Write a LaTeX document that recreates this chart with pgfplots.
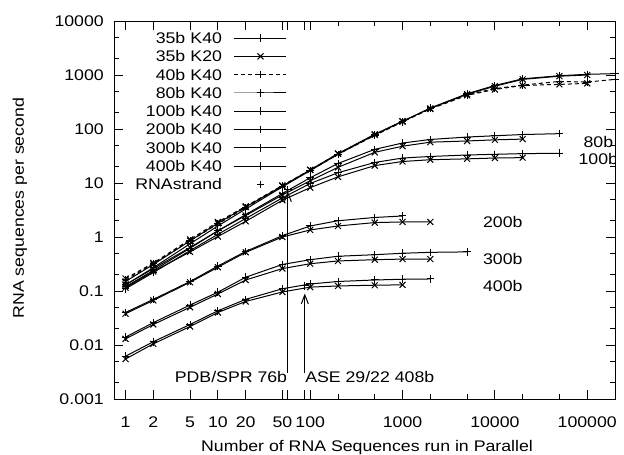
\documentclass[border=0pt]{standalone}
\usepackage{fontspec}
\setmainfont{Liberation Sans}[FakeStretch=1.15]
\usepackage{pgfplots}
\pgfplotsset{compat=1.18}
\usetikzlibrary{arrows.meta}
\pgfplotsset{
  mylegline/.style={legend image code/.code={
    \path[draw=none,fill=none] (0pt,-5pt) rectangle (52pt,5pt);
    \draw[mark repeat=2,mark phase=2,##1] plot coordinates {(0pt,0pt) (26pt,0pt) (52pt,0pt)};}},
  mylegmark/.style={legend image code/.code={
    \path[draw=none,fill=none] (0pt,-5pt) rectangle (52pt,5pt);
    \draw[##1] plot coordinates {(26pt,0pt)};}},
}
\begin{document}
\begin{tikzpicture}[font=\fontsize{15.4pt}{18pt}\selectfont]
\path[use as bounding box] (-114pt,-56pt) rectangle (510pt,399pt);
\begin{axis}[
  scale only axis, width=501pt, height=378pt,
  xmode=log, ymode=log,
  xmin=0.75, xmax=200000, ymin=0.001, ymax=10000,
  axis line style={line width=0.9pt},
  tick align=inside,
  major tick length=9pt, minor tick length=5pt,
  every tick/.style={line width=0.9pt, black},
  xtick={1,2,5,10,20,50,100,1000,10000,100000},
  xticklabels={1,2,5,10,20,50,100,1000,10000,100000},
  minor xtick={200,500,2000,5000,20000,50000,200000},
  extra x ticks={57.2,87.4},
  extra x tick labels={},
  ytick={0.001,0.01,0.1,1,10,100,1000,10000},
  yticklabels={0.001,0.01,0.1,1,10,100,1000,10000},
  minor ytick={0.002,0.005,0.02,0.05,0.2,0.5,2,5,20,50,200,500,2000,5000},
  every tick label/.append style={font=\fontsize{15.4pt}{18pt}\selectfont},
  yticklabel style={inner sep=0pt, xshift=-10pt},
  xticklabel style={inner sep=0pt, anchor=base, yshift=-28pt},
  xlabel={Number of RNA Sequences run in Parallel},
  ylabel={RNA sequences per second},
  every axis x label/.style={at={(axis description cs:0.505,-0.1402)}, anchor=base, inner sep=0pt, font=\fontsize{15.4pt}{18pt}\selectfont},
  every axis y label/.style={at={(axis description cs:-0.1876,0.505)}, anchor=center, rotate=90, font=\fontsize{15.4pt}{18pt}\selectfont},
  legend plot pos=right,
  legend cell align=right,
  mylegline,
  legend style={draw=none, fill=none, at={(axis description cs:0.3453,0.979)}, anchor=north east,
    inner sep=0pt, outer sep=0pt, row sep=0pt, column sep=12pt,
    font=\fontsize{15.4pt}{18pt}\selectfont,
    nodes={inner sep=0pt, text height=14.5pt, text depth=3.8pt, text width=95pt, align=right}},
  pl/.style={black, line width=1pt, mark=+, mark size=3.8pt, mark options={solid, line width=1pt}},
  px/.style={black, line width=1pt, mark=x, mark size=4.2pt, mark options={solid, line width=1pt}},
  dsh/.style={dash pattern=on 4pt off 3pt},
]
\addplot[pl] coordinates {(1,0.13)(2,0.27)(5,0.75)(10,1.6)(20,3.3)(50,8.5)(100,17)(200,34)(500,78)(1000,138)(2000,245)(5000,450)(10000,640)(20000,850)(50000,970)(100000,1030)(200000,1060)};
\addlegendentry{35b K40}
\addplot[px] coordinates {(1,0.15)(2,0.31)(5,0.85)(10,1.8)(20,3.6)(50,8.8)(100,17.5)(200,35)(500,80)(1000,140)(2000,240)(5000,440)(10000,620)(20000,830)(50000,950)(100000,1000)};
\addlegendentry{35b K20}
\addplot[pl,dsh] coordinates {(1,0.16)(2,0.32)(5,0.85)(10,1.75)(20,3.5)(50,8.7)(100,17)(200,34)(500,76)(1000,135)(2000,240)(5000,430)(10000,560)(20000,650)(50000,760)(100000,740)(200000,830)};
\addlegendentry{40b K40}
\addplot[pl] coordinates {(1,0.12)(2,0.24)(5,0.62)(10,1.3)(20,2.6)(50,6.4)(100,12.5)(200,23)(500,42)(1000,55)(2000,64)(5000,71)(10000,75)(20000,79)(50000,82)};
\addlegendentry{80b K40}
\addplot[pl] coordinates {(1,0.11)(2,0.22)(5,0.56)(10,1.12)(20,2.2)(50,5.3)(100,9.8)(200,15.5)(500,24)(1000,29)(2000,31)(5000,33)(10000,34)(20000,35)(50000,35.5)};
\addlegendentry{100b K40}
\addplot[pl] coordinates {(1,0.04)(2,0.07)(5,0.15)(10,0.29)(20,0.54)(50,1.06)(100,1.6)(200,2.0)(500,2.3)(1000,2.45)};
\addlegendentry{200b K40}
\addplot[pl] coordinates {(1,0.014)(2,0.026)(5,0.055)(10,0.095)(20,0.18)(50,0.31)(100,0.38)(200,0.44)(500,0.47)(1000,0.5)(2000,0.52)(5000,0.53)};
\addlegendentry{300b K40}
\addplot[pl] coordinates {(1,0.0062)(2,0.0115)(5,0.024)(10,0.043)(20,0.07)(50,0.11)(100,0.135)(200,0.15)(500,0.16)(1000,0.165)(2000,0.167)};
\addlegendentry{400b K40}
\addplot[black, only marks, mark=+, mark size=3.8pt, mark options={line width=1pt}, mylegmark] coordinates {(57.2,7.5)(87.4,0.125)};
\addlegendentry{RNAstrand}
% K20 curves without legend entries
\addplot[px,dsh,forget plot] coordinates {(1,0.17)(2,0.33)(5,0.9)(10,1.9)(20,3.7)(50,9)(100,17.5)(200,35)(500,78)(1000,137)(2000,235)(5000,420)(10000,540)(20000,640)(50000,670)(100000,700)};
\addplot[px,forget plot] coordinates {(1,0.13)(2,0.26)(5,0.64)(10,1.3)(20,2.5)(50,6)(100,11)(200,19.5)(500,37)(1000,48)(2000,57)(5000,60)(10000,63)(20000,65)};
\addplot[px,forget plot] coordinates {(1,0.115)(2,0.23)(5,0.53)(10,1.02)(20,1.95)(50,4.8)(100,8.2)(200,13)(500,21)(1000,25)(2000,27)(5000,28)(10000,29)(20000,29.5)};
\addplot[px,forget plot] coordinates {(1,0.038)(2,0.067)(5,0.145)(10,0.275)(20,0.52)(50,1.0)(100,1.35)(200,1.6)(500,1.85)(1000,1.9)(2000,1.9)};
\addplot[px,forget plot] coordinates {(1,0.013)(2,0.024)(5,0.05)(10,0.088)(20,0.16)(50,0.26)(100,0.32)(200,0.36)(500,0.38)(1000,0.39)(2000,0.39)};
\addplot[px,forget plot] coordinates {(1,0.0055)(2,0.0105)(5,0.022)(10,0.04)(20,0.064)(50,0.096)(100,0.118)(200,0.124)(500,0.128)(1000,0.13)};
% annotations
\node at (axis cs:132000,57) {80b};
\node at (axis cs:132000,27.6) {100b};
\node at (axis cs:12200,1.9) {200b};
\node at (axis cs:12200,0.39) {300b};
\node at (axis cs:12200,0.124) {400b};
\node[anchor=base east, inner sep=0pt] at (axis cs:56.5,0.00198) {PDB/SPR 76b};
\node[anchor=base west, inner sep=0pt] at (axis cs:88,0.00198) {ASE 29/22 408b};
\draw[line width=1pt, -{Straight Barb[length=9pt,width=7pt]}] (axis cs:57.2,0.00303) -- (axis cs:57.2,7);
\draw[line width=1pt, -{Straight Barb[length=9pt,width=7pt]}] (axis cs:87.4,0.00303) -- (axis cs:87.4,0.09);
\end{axis}
\end{tikzpicture}
\end{document}
